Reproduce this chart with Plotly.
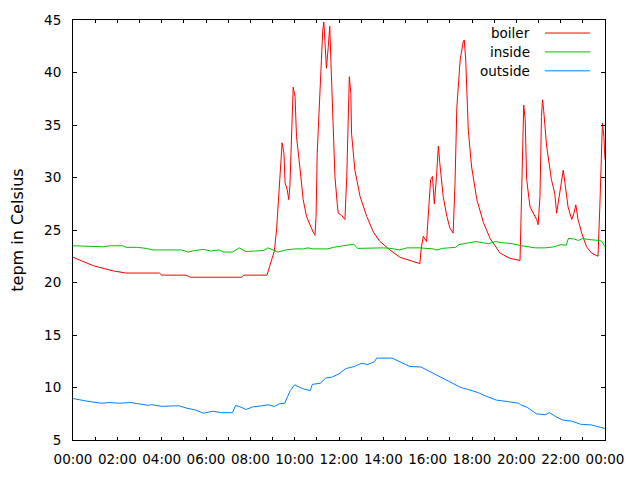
import pandas as pd
import plotly.graph_objects as go

# day the readings were taken (axis only shows time of day)
BASE_DAY = pd.Timestamp("2013-01-01")

boiler_time = [
    "00:00", "00:55", "01:49", "02:24", "03:54", "04:00", "05:06", "05:18", "07:36", "07:42",
    "08:45", "09:05", "09:11", "09:16", "09:22", "09:26", "09:31", "09:34", "09:40", "09:44",
    "09:47", "09:52", "09:56", "10:01", "10:05", "10:14", "10:23", "10:32", "10:41", "10:50",
    "10:55", "10:58", "11:01", "11:08", "11:13", "11:16", "11:19", "11:23", "11:26", "11:31",
    "11:35", "11:38", "11:43", "11:49", "11:55", "11:58", "12:07", "12:16", "12:21", "12:25",
    "12:28", "12:32", "12:34", "12:43", "12:57", "13:15", "13:33", "13:51", "14:18", "14:45",
    "15:12", "15:39", "15:42", "15:48", "15:57", "16:02", "16:08", "16:13", "16:18", "16:24",
    "16:29", "16:33", "16:42", "16:52", "17:00", "17:09", "17:14", "17:19", "17:28", "17:36",
    "17:39", "17:43", "17:50", "17:59", "18:13", "18:31", "18:49", "19:16", "19:43", "20:10",
    "20:13", "20:20", "20:24", "20:28", "20:37", "20:46", "20:55", "20:59", "21:04", "21:08",
    "21:11", "21:14", "21:22", "21:35", "21:44", "21:49", "21:58", "22:07", "22:13", "22:20",
    "22:30", "22:36", "22:41", "22:47", "22:57", "23:10", "23:24", "23:41", "23:46", "23:51",
    "23:53", "23:57", "24:00",
]
boiler_temp = [
    22.4, 21.6, 21.1, 20.9, 20.9, 20.7, 20.7, 20.5, 20.5, 20.7,
    20.7, 23.0, 25.0, 27.9, 31.0, 33.3, 32.3, 29.5, 28.8, 27.9,
    29.1, 34.5, 38.6, 37.7, 33.9, 31.0, 27.9, 26.3, 25.5, 24.8,
    24.5, 26.3, 32.3, 38.0, 41.8, 44.0, 44.8, 42.5, 40.4, 42.5,
    44.4, 41.2, 35.8, 30.1, 27.6, 26.6, 26.4, 26.0, 30.1, 36.4,
    39.6, 38.0, 34.2, 30.7, 28.2, 26.3, 24.8, 23.9, 23.1, 22.4,
    22.1, 21.8, 23.1, 24.4, 23.9, 26.3, 29.8, 30.1, 27.5, 30.1,
    33.0, 31.3, 28.2, 26.3, 25.2, 24.7, 29.4, 36.7, 41.2, 42.9,
    43.1, 41.2, 34.5, 31.0, 27.9, 25.7, 24.2, 22.8, 22.3, 22.1,
    27.5, 36.9, 35.5, 29.8, 27.2, 26.6, 26.0, 25.5, 28.2, 35.8,
    37.4, 36.4, 33.0, 29.8, 28.5, 26.6, 28.8, 30.7, 29.1, 27.2,
    26.0, 26.6, 27.4, 26.0, 24.7, 23.4, 22.8, 22.5, 27.2, 33.0,
    35.2, 33.9, 31.7,
]

inside_time = [
    "00:00", "00:45", "01:00", "01:24", "01:40", "02:15", "02:24", "02:54", "03:18", "03:36",
    "04:54", "05:12", "05:30", "05:54", "06:12", "06:36", "06:48", "07:12", "07:30", "07:48",
    "08:12", "08:36", "08:48", "09:05", "09:15", "09:36", "10:00", "10:24", "10:36", "10:50",
    "11:30", "11:45", "12:20", "12:40", "12:50", "13:30", "14:00", "14:20", "14:45", "15:03",
    "15:39", "16:15", "16:25", "16:40", "17:15", "17:24", "18:00", "18:10", "18:45", "19:03",
    "19:20", "19:48", "20:15", "20:51", "21:18", "21:42", "22:00", "22:15", "22:21", "22:36",
    "22:48", "23:00", "23:12", "23:36", "23:46", "23:52", "24:00",
]
inside_temp = [
    23.5, 23.45, 23.4, 23.4, 23.5, 23.5, 23.35, 23.35, 23.25, 23.1,
    23.1, 22.9, 23.05, 23.15, 23.0, 23.1, 22.9, 22.9, 23.3, 22.95,
    23.0, 23.05, 23.3, 23.05, 22.9, 23.1, 23.2, 23.2, 23.3, 23.2,
    23.2, 23.35, 23.5, 23.65, 23.25, 23.3, 23.3, 23.25, 23.1, 23.3,
    23.3, 23.2, 23.1, 23.25, 23.35, 23.6, 23.8, 23.9, 23.7, 23.9,
    23.8, 23.7, 23.5, 23.3, 23.3, 23.4, 23.6, 23.55, 24.2, 24.15,
    24.0, 24.2, 24.1, 24.0, 24.0, 23.9, 23.4,
]

outside_time = [
    "00:00", "00:18", "00:38", "01:17", "01:36", "02:06", "02:36", "02:54", "03:24", "03:33",
    "04:00", "04:30", "04:48", "05:06", "05:30", "05:54", "06:18", "06:42", "07:12", "07:20",
    "07:30", "07:48", "08:06", "08:30", "08:48", "09:06", "09:18", "09:33", "09:48", "10:00",
    "10:21", "10:42", "10:48", "11:09", "11:24", "11:42", "12:00", "12:18", "12:42", "13:00",
    "13:18", "13:36", "13:42", "14:24", "14:48", "15:12", "15:42", "16:12", "16:42", "17:00",
    "17:30", "18:00", "18:18", "18:36", "19:06", "19:36", "20:06", "20:12", "20:30", "20:54",
    "21:18", "21:30", "21:48", "22:06", "22:30", "22:54", "23:24", "23:48", "24:00",
]
outside_temp = [
    8.95, 8.8, 8.7, 8.5, 8.57, 8.5, 8.57, 8.47, 8.3, 8.37,
    8.2, 8.25, 8.25, 8.05, 7.87, 7.55, 7.74, 7.6, 7.6, 8.28,
    8.2, 7.9, 8.15, 8.25, 8.35, 8.2, 8.45, 8.5, 9.7, 10.25,
    9.9, 9.7, 10.3, 10.4, 10.9, 11.0, 11.3, 11.8, 12.0, 12.3,
    12.2, 12.45, 12.8, 12.8, 12.4, 12.0, 11.95, 11.4, 10.85, 10.5,
    10.0, 9.7, 9.5, 9.2, 8.8, 8.66, 8.5, 8.35, 8.1, 7.5,
    7.4, 7.6, 7.2, 6.9, 6.8, 6.5, 6.43, 6.2, 6.1,
]

series_names = ["boiler", "inside", "outside"]
series_colors = ["#ff0000", "#00c000", "#0080ff"]


def to_datetime(times):
    return [BASE_DAY + pd.to_timedelta(t + ":00") for t in times]


FONT = "DejaVu Sans, sans-serif"
FONT_SIZE = 13.5

fig = go.Figure()
for name, color, times, temps in zip(
    series_names, series_colors,
    [boiler_time, inside_time, outside_time],
    [boiler_temp, inside_temp, outside_temp],
):
    fig.add_trace(go.Scatter(
        x=to_datetime(times), y=temps, name=name, mode="lines",
        line=dict(color=color, width=1),
    ))

# the page puts the figure 8px in from the top/left, so shrink to fit
fig.update_layout(
    width=632, height=472,
    margin=dict(l=65, r=35, t=12, b=40, autoexpand=False),
    plot_bgcolor="white", paper_bgcolor="white",
    font=dict(family=FONT, size=FONT_SIZE, color="black"),
    showlegend=False,
)

fig.update_xaxes(
    range=[BASE_DAY, BASE_DAY + pd.Timedelta(hours=24)],
    tickformat="%H:%M", dtick=2 * 3600 * 1000, tick0=BASE_DAY,
    ticks="inside", ticklen=3, tickcolor="black",
    minor=dict(dtick=3600 * 1000, ticks="inside", ticklen=3, tickcolor="black"),
    showline=True, linecolor="black", linewidth=1, mirror="allticks",
    showgrid=False, zeroline=False, ticklabelstandoff=7, automargin=False,
)
fig.update_yaxes(
    range=[5, 45], dtick=5,
    ticks="inside", ticklen=4, tickcolor="black",
    showline=True, linecolor="black", linewidth=1, mirror="allticks",
    showgrid=False, zeroline=False, ticklabelstandoff=8, automargin=False,
    title=dict(text="tepm in Celsius", standoff=26),
)

# gnuplot-style key: right-aligned label followed by a line sample
row_y = [0.969, 0.924, 0.879]
for name, color, y in zip(series_names, series_colors, row_y):
    fig.add_annotation(
        x=0.863, y=y, xref="paper", yref="paper", text=name,
        showarrow=False, xanchor="right", yanchor="middle",
        font=dict(family=FONT, size=FONT_SIZE, color="black"),
    )
    fig.add_shape(
        type="line", xref="paper", yref="paper",
        x0=0.887, x1=0.972, y0=y, y1=y,
        line=dict(color=color, width=1),
    )

fig.write_html("out.html")
